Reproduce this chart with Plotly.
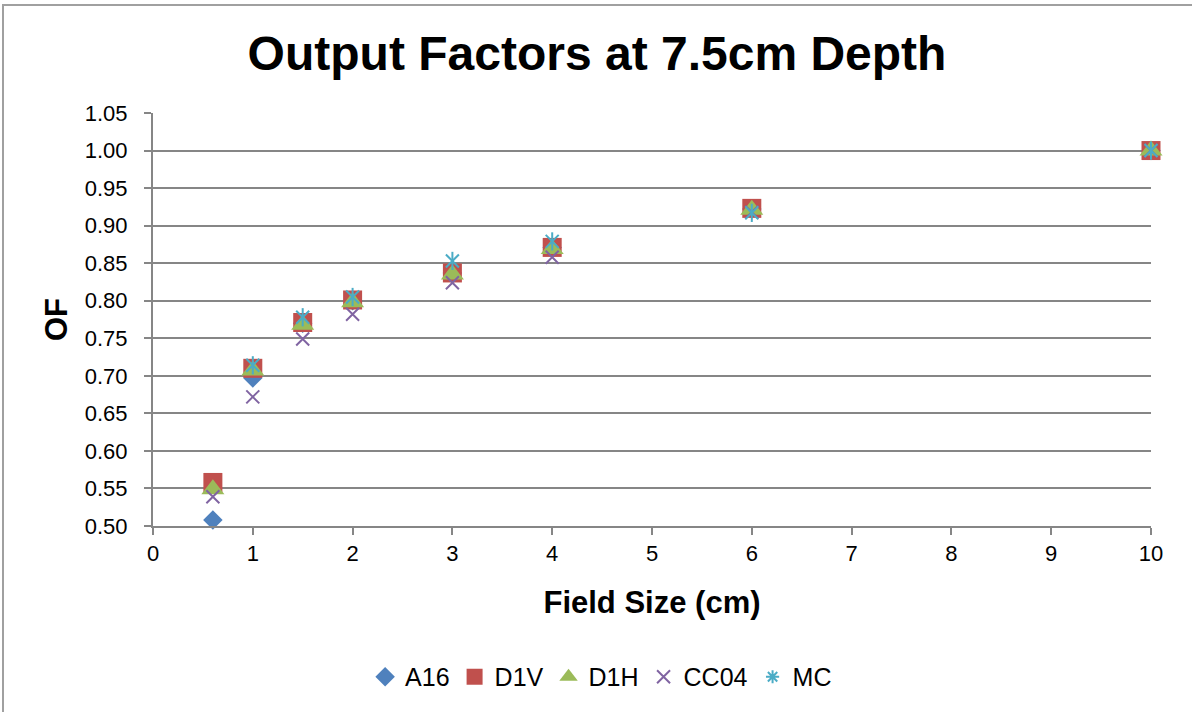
import plotly.graph_objects as go

field_size = [0.6, 1, 1.5, 2, 3, 4, 6, 10]
a16 = [0.508, 0.697, 0.770, 0.800, 0.837, 0.871, 0.922, 1.000]
d1v = [0.558, 0.710, 0.771, 0.801, 0.837, 0.871, 0.923, 1.000]
d1h = [0.549, 0.707, 0.768, 0.798, 0.835, 0.869, 0.921, 1.000]
cc04 = [0.539, 0.672, 0.749, 0.782, 0.824, 0.858, 0.918, 1.000]
mc = [None, 0.714, 0.778, 0.805, 0.853, 0.879, 0.917, 1.000]

x_ticks = list(range(0, 11))
y_ticks = [0.50, 0.55, 0.60, 0.65, 0.70, 0.75, 0.80, 0.85, 0.90, 0.95, 1.00, 1.05]

FONT = "Liberation Sans, Arial, sans-serif"
fig = go.Figure()

fig.add_trace(go.Scatter(x=field_size, y=a16, mode="markers", name="A16", cliponaxis=False,
                         marker=dict(symbol="diamond", size=15, color="#4F81BD", line=dict(width=0))))
fig.add_trace(go.Scatter(x=field_size, y=d1v, mode="markers", name="D1V", cliponaxis=False,
                         marker=dict(symbol="square", size=19, color="#C0504D", line=dict(width=0))))
fig.add_trace(go.Scatter(x=field_size, y=d1h, mode="markers", name="D1H", cliponaxis=False,
                         marker=dict(symbol="triangle-up", size=20, color="#9BBB59", line=dict(width=0))))
fig.add_trace(go.Scatter(x=field_size, y=cc04, mode="markers", name="CC04", cliponaxis=False,
                         marker=dict(symbol="x-thin-open", size=13, color="#8064A2",
                                     line=dict(width=2, color="#8064A2"))))
fig.add_trace(go.Scatter(x=field_size, y=mc, mode="markers", name="MC", showlegend=False,
                         legendgroup="mc", cliponaxis=False,
                         marker=dict(symbol="x-thin-open", size=13, color="#4BACC6",
                                     line=dict(width=2, color="#4BACC6"))))
fig.add_trace(go.Scatter(x=field_size, y=mc, mode="markers", name="MC", showlegend=False,
                         legendgroup="mc", cliponaxis=False,
                         marker=dict(symbol="line-ns-open", size=13, color="#4BACC6",
                                     line=dict(width=2, color="#4BACC6"))))
fig.add_trace(go.Scatter(x=[None], y=[None], mode="markers", name="MC", legendgroup="mc",
                         marker=dict(symbol="asterisk-open", size=11, color="#4BACC6",
                                     line=dict(width=2, color="#4BACC6"))))

fig.update_layout(
    width=1192, height=712,
    margin=dict(l=153, r=41, t=113, b=186),
    paper_bgcolor="white", plot_bgcolor="white",
    font=dict(family=FONT, color="black"),
    title=dict(text="<b>Output Factors at 7.5cm Depth</b>", x=597 / 1192, xanchor="center",
               xref="container", y=1 - 53 / 712, yref="container", yanchor="middle",
               font=dict(size=48, family=FONT, color="black")),
    showlegend=True,
    legend=dict(orientation="h", x=0.449, xanchor="center", y=-0.3656, yanchor="middle",
                font=dict(size=25, family=FONT), itemwidth=30, bgcolor="rgba(0,0,0,0)"),
    shapes=[dict(type="rect", xref="paper", yref="paper", x0=-0.1503, y0=-0.6,
                 x1=1.2, y1=1.2615, line=dict(color="#A0A0A0", width=2), layer="below")],
)

fig.update_xaxes(range=[0, 10], tickvals=x_ticks, ticktext=[str(v) for v in x_ticks],
                 showgrid=False, zeroline=False, showline=True, linecolor="#868686", linewidth=2,
                 ticks="outside", ticklen=7, tickcolor="#868686", tickwidth=2,
                 tickfont=dict(size=22, family=FONT),
                 title=dict(text="<b>Field Size (cm)</b>", font=dict(size=31, family=FONT),
                            standoff=26))
fig.update_yaxes(range=[0.50, 1.05], tickvals=y_ticks, ticktext=[f"{v:.2f}" for v in y_ticks],
                 showgrid=True, gridcolor="#868686", gridwidth=2,
                 zeroline=False, showline=True, linecolor="#868686", linewidth=2,
                 ticks="outside", ticklen=7, tickcolor="#868686", tickwidth=2,
                 tickfont=dict(size=22, family=FONT), ticklabelstandoff=12,
                 title=dict(text="<b>OF</b>", font=dict(size=31, family=FONT), standoff=8))

fig.write_html("out.html")
